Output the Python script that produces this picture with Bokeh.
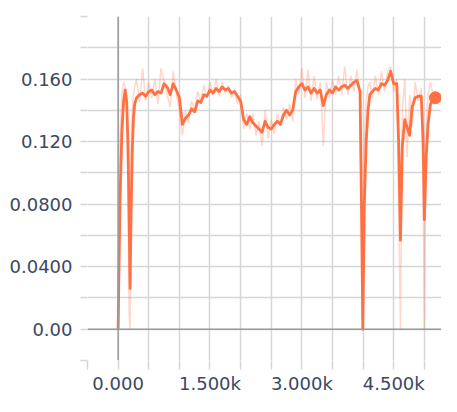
from bokeh.plotting import figure
from bokeh.models import Range1d, FixedTicker, CustomJSTickFormatter, Span, ColumnDataSource
from bokeh.embed import file_html
from bokeh.resources import INLINE

# ---- data ----
steps = [0, 30, 60, 90, 115, 140, 160, 180, 195, 210, 230, 250, 270, 300, 350,
         400, 450, 500, 550, 600, 650, 700, 750, 800, 850, 900, 950, 1000, 1050, 1100,
         1150, 1200, 1250, 1300, 1350, 1400, 1450, 1500, 1550, 1600, 1650, 1700, 1750, 1800,
         1850, 1900, 1950, 2000, 2050, 2100, 2150, 2200, 2250, 2300, 2350, 2400, 2450, 2500,
         2550, 2600, 2650, 2700, 2750, 2800, 2850, 2900, 2950, 3000, 3050, 3100, 3150, 3200,
         3250, 3300, 3350, 3400, 3450, 3500, 3550, 3600, 3650, 3700, 3750, 3800, 3850, 3900,
         3950, 3980, 3995, 4020, 4050, 4080, 4110, 4150, 4200, 4250, 4300, 4350, 4400, 4450,
         4500, 4550, 4580, 4610, 4640, 4680, 4720, 4760, 4800, 4850, 4900, 4950, 4980, 5000,
         5030, 5060, 5100, 5140, 5180]

smoothed = [0.000, 0.080, 0.125, 0.146, 0.153, 0.145, 0.120, 0.070, 0.026, 0.070, 0.112, 0.135, 0.144, 0.148, 0.150,
            0.151, 0.149, 0.152, 0.153, 0.150, 0.152, 0.151, 0.157, 0.155, 0.150, 0.157, 0.153, 0.148, 0.131, 0.135,
            0.137, 0.141, 0.139, 0.146, 0.145, 0.150, 0.149, 0.153, 0.151, 0.154, 0.152, 0.155, 0.153, 0.154,
            0.151, 0.152, 0.149, 0.146, 0.134, 0.131, 0.136, 0.132, 0.130, 0.128, 0.126, 0.133, 0.129, 0.128,
            0.131, 0.133, 0.131, 0.137, 0.140, 0.137, 0.140, 0.152, 0.155, 0.157, 0.153, 0.155, 0.151, 0.154,
            0.151, 0.153, 0.143, 0.150, 0.153, 0.151, 0.155, 0.153, 0.155, 0.156, 0.154, 0.156, 0.158, 0.159,
            0.152, 0.060, 0.000, 0.080, 0.120, 0.140, 0.150, 0.152, 0.154, 0.153, 0.157, 0.156, 0.159, 0.165,
            0.157, 0.157, 0.120, 0.057, 0.117, 0.134, 0.129, 0.124, 0.142, 0.148, 0.149, 0.149, 0.120, 0.070,
            0.110, 0.131, 0.144, 0.147, 0.148]

raw = [0.000, 0.120, 0.150, 0.158, 0.155, 0.150, 0.090, 0.010, 0.000, 0.110, 0.140, 0.150, 0.155, 0.160, 0.145,
       0.167, 0.146, 0.158, 0.148, 0.160, 0.144, 0.167, 0.158, 0.150, 0.142, 0.165, 0.150, 0.140, 0.124, 0.140,
       0.132, 0.146, 0.140, 0.152, 0.146, 0.156, 0.148, 0.158, 0.150, 0.160, 0.149, 0.158, 0.151, 0.156,
       0.148, 0.152, 0.144, 0.150, 0.128, 0.138, 0.128, 0.138, 0.124, 0.133, 0.117, 0.140, 0.122, 0.134,
       0.125, 0.138, 0.130, 0.142, 0.134, 0.144, 0.133, 0.160, 0.150, 0.167, 0.148, 0.166, 0.146, 0.162,
       0.147, 0.158, 0.117, 0.158, 0.148, 0.160, 0.150, 0.162, 0.150, 0.168, 0.150, 0.162, 0.152, 0.166,
       0.148, 0.020, 0.000, 0.120, 0.145, 0.155, 0.158, 0.148, 0.162, 0.150, 0.165, 0.152, 0.165, 0.168,
       0.152, 0.160, 0.080, 0.000, 0.140, 0.160, 0.110, 0.150, 0.130, 0.158, 0.146, 0.154, 0.090, 0.000,
       0.130, 0.150, 0.158, 0.150, 0.152]

x_tick_values = [0, 1500, 3000, 4500]
x_tick_labels = ["0.000", "1.500k", "3.000k", "4.500k"]
x_minor_values = [-500, 500, 1000, 2000, 2500, 3500, 4000, 5000]
y_tick_values = [0.0, 0.04, 0.08, 0.12, 0.16]
y_tick_labels = ["0.00", "0.0400", "0.0800", "0.120", "0.160"]
y_minor_values = [-0.02, 0.02, 0.06, 0.10, 0.14, 0.18, 0.20]

LINE = "#ff7043"
GRID = "#d6d6d6"
TEXT = "#3b4863"

p = figure(width=441, height=396, output_backend="svg", toolbar_location=None,
           x_range=Range1d(-500, 5280), y_range=Range1d(-0.02, 0.20),
           min_border_left=87, min_border_right=0, min_border_top=16, min_border_bottom=32)
p.outline_line_color = None
p.background_fill_color = "white"

p.xgrid.ticker = FixedTicker(ticks=sorted(x_tick_values + x_minor_values))
p.ygrid.ticker = FixedTicker(ticks=sorted(y_tick_values + y_minor_values))
for g in (p.xgrid, p.ygrid):
    g.grid_line_color = GRID
    g.grid_line_width = 1.5

p.add_layout(Span(location=0, dimension="height", line_color="#9a9a9a", line_width=1.5))
p.add_layout(Span(location=0, dimension="width", line_color="#9a9a9a", line_width=1.5))

fmt_code = """
for (let i = 0; i < vals.length; i++) {
  if (Math.abs(tick - vals[i]) < 1e-9) { return labs[i]; }
}
return '';
"""
p.xaxis.ticker = FixedTicker(ticks=x_tick_values, minor_ticks=x_minor_values)
p.xaxis.formatter = CustomJSTickFormatter(args=dict(vals=x_tick_values, labs=x_tick_labels), code=fmt_code)
p.yaxis.ticker = FixedTicker(ticks=y_tick_values, minor_ticks=y_minor_values)
p.yaxis.formatter = CustomJSTickFormatter(args=dict(vals=y_tick_values, labs=y_tick_labels), code=fmt_code)

for ax, out, stand in ((p.xaxis, 9, 3), (p.yaxis, 7, 8)):
    ax.axis_line_color = None
    ax.major_tick_in = 0
    ax.minor_tick_in = 0
    ax.major_tick_out = out
    ax.minor_tick_out = out
    ax.major_tick_line_color = GRID
    ax.minor_tick_line_color = GRID
    ax.major_tick_line_width = 1.5
    ax.minor_tick_line_width = 1.5
    ax.major_label_standoff = stand
    ax.major_label_text_font = "DejaVu Sans"
    ax.major_label_text_font_size = "18px"
    ax.major_label_text_color = TEXT

src = ColumnDataSource(dict(step=steps, smoothed=smoothed, raw=raw))
p.line("step", "raw", source=src, line_color=LINE, line_alpha=0.28, line_width=1.5)
p.line("step", "smoothed", source=src, line_color=LINE, line_width=2.8, line_join="round")
p.scatter(x=[steps[-1]], y=[smoothed[-1]], size=12, fill_color=LINE, line_color=LINE)

open("out.html", "w").write(file_html(p, INLINE))
